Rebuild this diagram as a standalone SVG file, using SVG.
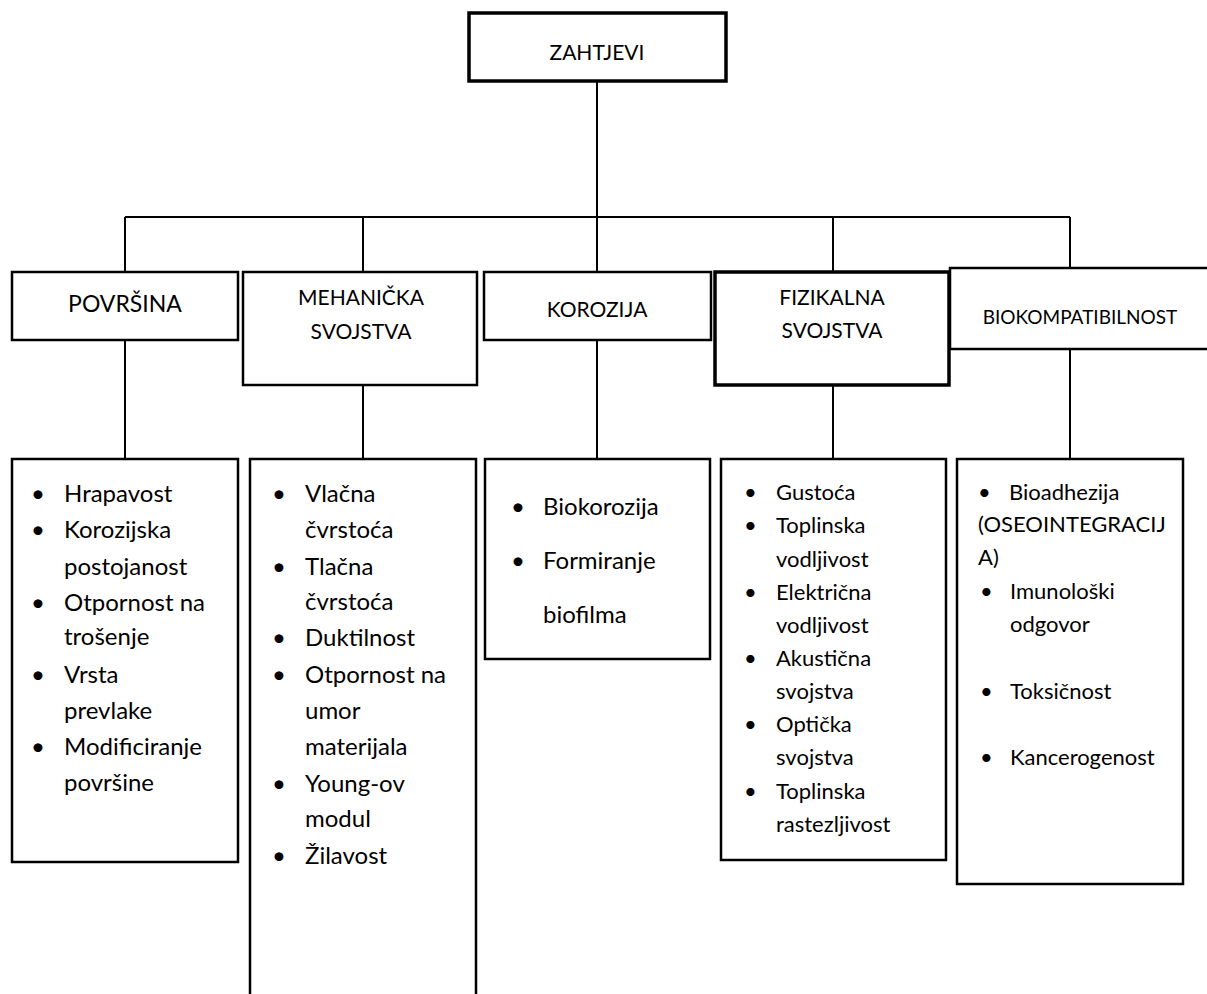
<svg xmlns="http://www.w3.org/2000/svg" width="1207" height="994" viewBox="0 0 1207 994">
<style>
.box{fill:#fff;stroke:#000;stroke-width:2.5}
.thick{stroke-width:3.5}
.con{stroke:#000;stroke-width:2;fill:none}
.h{font-family:Lato,"Open Sans",sans-serif;font-size:21px;fill:#000;text-anchor:middle}
.t{font-family:Lato,"Open Sans",sans-serif;font-size:24px;fill:#000}
.s{font-family:Lato,"Open Sans",sans-serif;font-size:22px;fill:#000}
</style>
<rect width="1207" height="994" fill="#fff"/>
<g id="connectors">
<path class="con" d="M597 81V217M125 217H1070M125 217V272M363 217V272M597 217V272M833 217V272M1070 217V268M125 340V459M363 385V459M597 340V459M833 385V459M1070 349V459"/>
<path class="con" d="M931 619V626" stroke-width="1.5"/>
</g>
<g id="zahtjevi"><rect class="box thick" x="469" y="13" width="257" height="68"/><text class="h" x="597" y="60">ZAHTJEVI</text></g>
<g id="povrsina"><rect class="box" x="12" y="272" width="226" height="68"/><text class="h" x="125" y="312" style="font-size:23px">POVRŠINA</text></g>
<g id="mehanicka"><rect class="box" x="243" y="272" width="234" height="113"/><text class="h" x="361" y="305">MEHANIČKA</text><text class="h" x="361" y="339">SVOJSTVA</text></g>
<g id="korozija"><rect class="box" x="484" y="272" width="227" height="68"/><text class="h" x="597" y="317">KOROZIJA</text></g>
<g id="fizikalna"><rect class="box thick" x="715" y="272" width="234" height="113"/><text class="h" x="832" y="305">FIZIKALNA</text><text class="h" x="832" y="338">SVOJSTVA</text></g>
<g id="biokompatibilnost"><rect class="box" x="950" y="268" width="259" height="81"/><text class="h" x="1080" y="324" style="font-size:19px">BIOKOMPATIBILNOST</text></g>
<g id="list-povrsina"><rect class="box" x="12" y="459" width="226" height="403"/>
<g class="t"><text x="31" y="502">•</text><text x="64" y="502">Hrapavost</text><text x="31" y="538">•</text><text x="64" y="538">Korozijska</text><text x="64" y="575">postojanost</text><text x="31" y="611">•</text><text x="64" y="611">Otpornost na</text><text x="64" y="645">trošenje</text><text x="31" y="683">•</text><text x="64" y="683">Vrsta</text><text x="64" y="719">prevlake</text><text x="31" y="755">•</text><text x="64" y="755">Modificiranje</text><text x="64" y="791">površine</text></g></g>
<g id="list-mehanicka"><path class="box" d="M250 996V459H476V996"/>
<g class="t"><text x="272" y="502">•</text><text x="305" y="502">Vlačna</text><text x="305" y="538">čvrstoća</text><text x="272" y="575">•</text><text x="305" y="575">Tlačna</text><text x="305" y="610">čvrstoća</text><text x="272" y="646">•</text><text x="305" y="646">Duktilnost</text><text x="272" y="683">•</text><text x="305" y="683">Otpornost na</text><text x="305" y="719">umor</text><text x="305" y="755">materijala</text><text x="272" y="792">•</text><text x="305" y="792">Young-ov</text><text x="305" y="827">modul</text><text x="272" y="864">•</text><text x="305" y="864">Žilavost</text></g></g>
<g id="list-korozija"><rect class="box" x="485" y="459" width="225" height="200"/>
<g class="t"><text x="511" y="515">•</text><text x="543" y="515">Biokorozija</text><text x="511" y="569">•</text><text x="543" y="569">Formiranje</text><text x="543" y="623">biofilma</text></g></g>
<g id="list-fizikalna"><rect class="box" x="721" y="459" width="225" height="401"/>
<g class="s"><text x="744" y="500">•</text><text x="776" y="500">Gustoća</text><text x="744" y="533">•</text><text x="776" y="533">Toplinska</text><text x="776" y="567">vodljivost</text><text x="744" y="600">•</text><text x="776" y="600">Električna</text><text x="776" y="633">vodljivost</text><text x="744" y="666">•</text><text x="776" y="666">Akustična</text><text x="776" y="699">svojstva</text><text x="744" y="732">•</text><text x="776" y="732">Optička</text><text x="776" y="765">svojstva</text><text x="744" y="799">•</text><text x="776" y="799">Toplinska</text><text x="776" y="832">rastezljivost</text></g></g>
<g id="list-biokompatibilnost"><rect class="box" x="957" y="459" width="226" height="425"/>
<g class="s"><text x="978" y="500">•</text><text x="1009" y="500">Bioadhezija</text><text x="978" y="532">(OSEOINTEGRACIJ</text><text x="978" y="565">A)</text><text x="980" y="599">•</text><text x="1010" y="599">Imunološki</text><text x="1010" y="632">odgovor</text><text x="980" y="699">•</text><text x="1010" y="699">Toksičnost</text><text x="980" y="765">•</text><text x="1010" y="765">Kancerogenost</text></g></g>
</svg>
